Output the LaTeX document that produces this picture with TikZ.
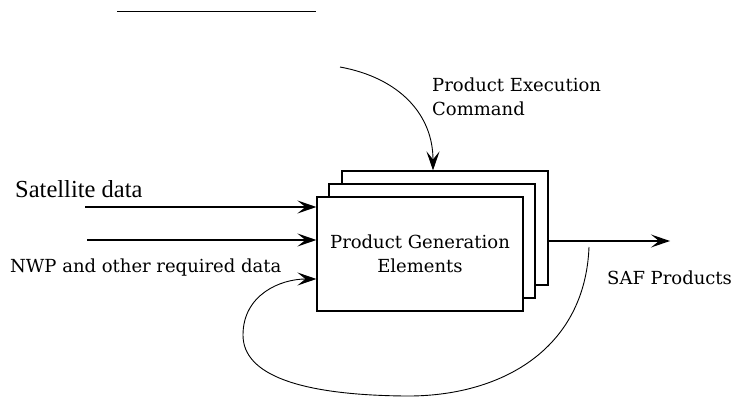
\documentclass[tikz,border=0pt]{standalone}
\usepackage{fontspec}
\setmainfont{Liberation Serif}
\newfontfamily\slabfont{DejaVu Serif}
\usetikzlibrary{arrows.meta}

\begin{document}
\begin{tikzpicture}[x=1pt, y=-1pt,
  box/.style={draw, fill=white, line width=1.2pt, minimum width=206pt, minimum height=114pt, inner sep=0pt},
  flow/.style={line width=1.2pt, -{Stealth[length=19pt, width=13pt, inset=8pt]}},
  loop/.style={line width=0.9pt, -{Stealth[length=19pt, width=13pt, inset=8pt]}},
  lbl/.style={inner sep=0pt, font=\slabfont\fontsize{18}{24}\selectfont}]

\useasboundingbox (0,0) rectangle (736,398);

% Linea superior
\draw[line width=1pt] (117,12) -- (316,12);

% Cajas
\node[box] (back) at (445,228) {};
\node[box] (middle) at (432,241) {};
\node[box, align=center, lbl] (front) at (420,254) {Product Generation\\Elements};

% Entradas
\coordinate (sat) at (85,207);
\coordinate (nwp) at (87,240);
\draw[flow] (sat) -- (sat -| front.west);
\draw[flow] (nwp) -- (nwp -| front.west);
\node[anchor=west, inner sep=0pt, font=\fontsize{24.5}{26}\selectfont] (satlbl) at (15,189) {Satellite data};
\node[anchor=west, lbl] (nwplbl) at (10,268) {NWP and other required data};

% Comando
\coordinate (cmd) at (340,67);
\draw[loop] (cmd) .. controls (400,78) and (433,115) .. (back.north -| 433,0);
\node[anchor=north west, align=left, lbl] (cmdlbl) at (432,78) {Product Execution\\Command};

% Salida
\coordinate (out) at (670,241);
\draw[flow] (out -| back.east) -- (out);
\node[anchor=west, lbl] (outlbl) at (607,278) {SAF Products};

% Realimentacion
\coordinate (fb) at (589,247);
\draw[loop] (fb) .. controls (585,350) and (500,397) .. (405,396)
  .. controls (300,395) and (243,375) .. (243,335)
  .. controls (243,295) and (280,279) .. (front.west |- 0,279);

\end{tikzpicture}
\end{document}
